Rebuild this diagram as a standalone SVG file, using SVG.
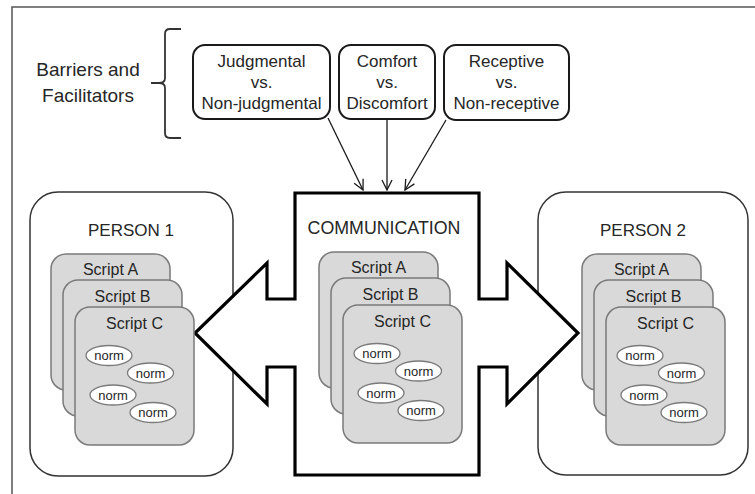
<svg xmlns="http://www.w3.org/2000/svg" xmlns:xlink="http://www.w3.org/1999/xlink" width="755" height="494" viewBox="0 0 755 494">
<style>
text{font-family:"Liberation Sans",Arial,sans-serif;fill:#262626;text-anchor:middle}
.frame{fill:none;stroke:#555;stroke-width:1.5}
.fbox{fill:#fff;stroke:#1a1a1a;stroke-width:2}
.pbox{fill:#fff;stroke:#333;stroke-width:1.5}
.card{fill:#d9d9d9;stroke:#7a7a7a;stroke-width:1.5}
.norm{fill:#fff;stroke:#7a7a7a;stroke-width:1.3}
.t17{font-size:17px}
.t19{font-size:19px}
.ts{font-size:16px}
.tn{font-size:13px}
.conn{fill:none;stroke:#1a1a1a;stroke-width:1.3}
.comm{fill:#fff;stroke:#000;stroke-width:3.2;stroke-linejoin:miter}
</style>
<defs>
<marker id="open" viewBox="0 0 12 12" refX="11" refY="6" markerWidth="12" markerHeight="12" markerUnits="userSpaceOnUse" orient="auto">
<path d="M1,1 L11,6 L1,11" fill="none" stroke="#1a1a1a" stroke-width="1.3"/>
</marker>
</defs>
<path class="frame" d="M756,7 H12 V495"/>
<g id="label">
<text class="t19" x="88" y="76">Barriers and</text>
<text class="t19" x="88" y="102">Facilitators</text>
<path fill="none" stroke="#333" stroke-width="1.8" d="M181,29 H170 Q165,29 165,34 V78 Q165,83 159,83 H151 M159,83 Q165,83 165,88 V133 Q165,138 170,138 H181"/>
</g>
<g id="judgmental">
<rect class="fbox" x="193" y="45" width="137" height="74" rx="12"/>
<text class="t17" x="261.5" y="67">Judgmental</text>
<text class="t17" x="261.5" y="88">vs.</text>
<text class="t17" x="261.5" y="109">Non-judgmental</text>
</g>
<g id="comfort">
<rect class="fbox" x="339" y="45" width="96" height="74" rx="12"/>
<text class="t17" x="387" y="67">Comfort</text>
<text class="t17" x="387" y="88">vs.</text>
<text class="t17" x="387" y="109">Discomfort</text>
</g>
<g id="receptive">
<rect class="fbox" x="444" y="45" width="125" height="75" rx="12"/>
<text class="t17" x="506.5" y="67">Receptive</text>
<text class="t17" x="506.5" y="88">vs.</text>
<text class="t17" x="506.5" y="109">Non-receptive</text>
</g>
<g id="person1">
<rect class="pbox" x="30" y="192" width="203" height="284" rx="28"/>
<text class="t17" x="131" y="236">PERSON  1</text>
</g>
<g id="person2">
<rect class="pbox" x="538" y="192" width="210" height="283" rx="28"/>
<text class="t17" x="643" y="236">PERSON  2</text>
</g>
<g id="communication">
<polygon class="comm" points="295,193 479,193 479,299 507,299 507,263 578,333 507,404 507,367 479,367 479,475 295,475 295,367 267,367 267,404 195,333 267,263 267,299 295,299"/>
<text class="t17" x="384" y="234" style="font-size:17.8px">COMMUNICATION</text>
</g>
<g id="connectors">
<line class="conn" x1="328" y1="118" x2="363" y2="190" marker-end="url(#open)"/>
<line class="conn" x1="387" y1="119" x2="387" y2="190" marker-end="url(#open)"/>
<line class="conn" x1="446" y1="120" x2="405" y2="190" marker-end="url(#open)"/>
</g>
<g id="scripts1" transform="translate(51,254)">
<rect class="card" x="0" y="0" width="119" height="136" rx="15"/>
<text class="ts" x="59.5" y="21">Script A</text>
<rect class="card" x="12" y="26" width="119" height="136" rx="15"/>
<text class="ts" x="71.5" y="48">Script B</text>
<rect class="card" x="24" y="53" width="119" height="138" rx="15"/>
<text class="ts" x="83.5" y="75">Script C</text>
<ellipse class="norm" cx="58" cy="101.5" rx="23" ry="10"/><text class="tn" x="58" y="106">norm</text>
<ellipse class="norm" cx="99.5" cy="119" rx="23" ry="10"/><text class="tn" x="99.5" y="123.5">norm</text>
<ellipse class="norm" cx="62" cy="141" rx="23" ry="10"/><text class="tn" x="62" y="145.5">norm</text>
<ellipse class="norm" cx="102" cy="158.5" rx="23" ry="10"/><text class="tn" x="102" y="163">norm</text>
</g>
<g id="scripts-comm" transform="translate(319,252)">
<rect class="card" x="0" y="0" width="119" height="136" rx="15"/>
<text class="ts" x="59.5" y="21">Script A</text>
<rect class="card" x="12" y="26" width="119" height="136" rx="15"/>
<text class="ts" x="71.5" y="48">Script B</text>
<rect class="card" x="24" y="53" width="119" height="138" rx="15"/>
<text class="ts" x="83.5" y="75">Script C</text>
<ellipse class="norm" cx="58" cy="101.5" rx="23" ry="10"/><text class="tn" x="58" y="106">norm</text>
<ellipse class="norm" cx="99.5" cy="119" rx="23" ry="10"/><text class="tn" x="99.5" y="123.5">norm</text>
<ellipse class="norm" cx="62" cy="141" rx="23" ry="10"/><text class="tn" x="62" y="145.5">norm</text>
<ellipse class="norm" cx="102" cy="158.5" rx="23" ry="10"/><text class="tn" x="102" y="163">norm</text>
</g>
<g id="scripts2" transform="translate(582,254)">
<rect class="card" x="0" y="0" width="119" height="136" rx="15"/>
<text class="ts" x="59.5" y="21">Script A</text>
<rect class="card" x="12" y="26" width="119" height="136" rx="15"/>
<text class="ts" x="71.5" y="48">Script B</text>
<rect class="card" x="24" y="53" width="119" height="138" rx="15"/>
<text class="ts" x="83.5" y="75">Script C</text>
<ellipse class="norm" cx="58" cy="101.5" rx="23" ry="10"/><text class="tn" x="58" y="106">norm</text>
<ellipse class="norm" cx="99.5" cy="119" rx="23" ry="10"/><text class="tn" x="99.5" y="123.5">norm</text>
<ellipse class="norm" cx="62" cy="141" rx="23" ry="10"/><text class="tn" x="62" y="145.5">norm</text>
<ellipse class="norm" cx="102" cy="158.5" rx="23" ry="10"/><text class="tn" x="102" y="163">norm</text>
</g>
</svg>
